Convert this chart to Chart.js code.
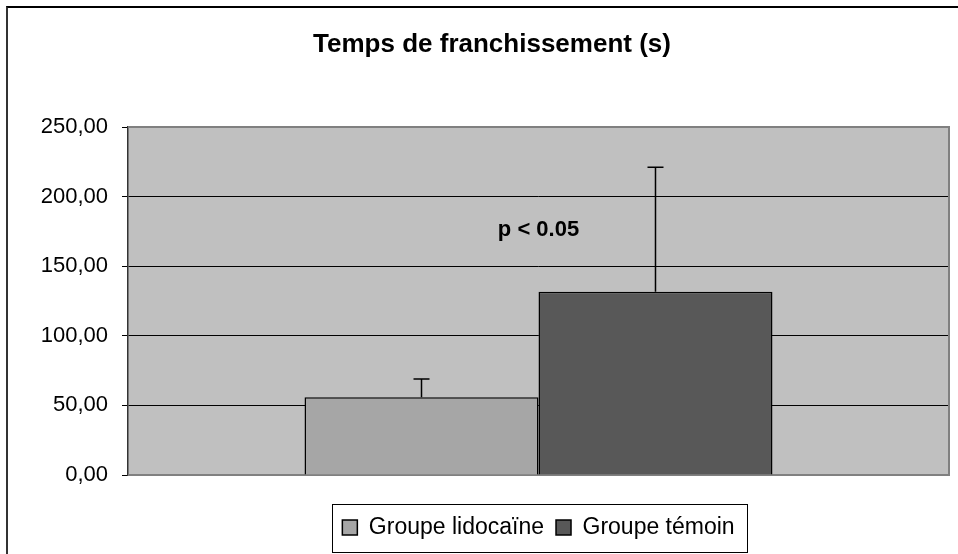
<!DOCTYPE html>
<html lang="fr">
  <head>
    <meta charset="UTF-8" />
    <title>Temps de franchissement (s)</title>
    <script src="https://cdn.jsdelivr.net/npm/chart.js"></script>
    <style>
      body { margin: 0; overflow: hidden; background: #fff; }
      #frame {
        position: absolute; left: 6px; top: 6px; width: 2000px; height: 2000px;
        border-left: 2px solid #333; border-top: 2px solid #000;
      }
      #myChart { position: absolute; left: 0; top: 0; }
    </style>
  </head>
  <body>
    <div id="frame"></div>
    <canvas id="myChart" width="958" height="554"></canvas>

    <script>
      // données
      const categories = [""];
      const groupNames = ["Groupe lidocaïne", "Groupe témoin"];
      const means = [55.8, 131.7];
      const errUp = [13.2, 89.3];
      const yTicks = [0, 50, 100, 150, 200, 250];
      const pText = "p < 0.05";
      const pTextAt = 176; // hauteur du texte, en unités de l'axe Y

      const FONT = "'Liberation Sans', Arial, sans-serif";

      // fond gris de la zone de tracé + bordure
      const plotArea = {
        id: "plotArea",
        beforeDraw(chart) {
          const { ctx, chartArea: a } = chart;
          ctx.save();
          ctx.fillStyle = "#C0C0C0";
          ctx.fillRect(a.left, a.top, a.right - a.left, a.bottom - a.top);
          ctx.restore();
        },
        beforeDatasetsDraw(chart) {
          const { ctx, chartArea: a } = chart;
          ctx.save();
          ctx.strokeStyle = "#808080";
          ctx.lineWidth = 2;
          ctx.beginPath();
          ctx.moveTo(a.left, a.top);
          ctx.lineTo(a.right, a.top);
          ctx.lineTo(a.right, a.bottom);
          ctx.lineTo(a.left, a.bottom);
          ctx.stroke();
          ctx.restore();
        },
      };

      // barres d'erreur (vers le haut seulement) et texte p
      const extras = {
        id: "extras",
        afterDatasetsDraw(chart) {
          const { ctx } = chart;
          const y = chart.scales.y;
          ctx.save();
          ctx.strokeStyle = "#000";
          ctx.lineWidth = 1.5;
          chart.data.datasets.forEach((ds, i) => {
            const bar = chart.getDatasetMeta(i).data[0];
            const top = y.getPixelForValue(means[i] + errUp[i]);
            ctx.beginPath();
            ctx.moveTo(bar.x, bar.y);
            ctx.lineTo(bar.x, top);
            ctx.moveTo(bar.x - 8, top);
            ctx.lineTo(bar.x + 8, top);
            ctx.stroke();
          });
          ctx.fillStyle = "#000";
          ctx.font = "bold 22px " + FONT;
          ctx.textAlign = "center";
          ctx.textBaseline = "middle";
          ctx.fillText(pText, chart.scales.x.getPixelForValue(0), y.getPixelForValue(pTextAt));
          ctx.restore();
        },
        afterDraw(chart) {
          // cadre de la légende
          const hb = chart.legend.legendHitBoxes;
          if (!hb || !hb.length) return;
          const { ctx } = chart;
          const last = hb[hb.length - 1];
          const left = hb[0].left - 10;
          const right = last.left + last.width + 13;
          const cy = hb[0].top + hb[0].height / 2;
          ctx.save();
          ctx.strokeStyle = "#000";
          ctx.lineWidth = 1;
          ctx.strokeRect(Math.round(left) + 0.5, Math.round(cy - 24) + 0.5, Math.round(right - left), 48);
          ctx.restore();
        },
      };

      const ctx = document.getElementById("myChart").getContext("2d");
      const chart = new Chart(ctx, {
        type: "bar",
        data: {
          labels: categories,
          datasets: [
            {
              label: groupNames[0],
              data: [means[0]],
              backgroundColor: "#A6A6A6",
              borderColor: "#000",
              borderWidth: 1.5,
            },
            {
              label: groupNames[1],
              data: [means[1]],
              backgroundColor: "#585858",
              borderColor: "#000",
              borderWidth: 1.5,
            },
          ],
        },
        options: {
          responsive: false,
          animation: false,
          devicePixelRatio: 1,
          layout: { padding: { left: 35, right: 9, top: 0, bottom: 5 } },
          datasets: { bar: { barPercentage: 1, categoryPercentage: 0.57 } },
          plugins: {
            title: {
              display: true,
              text: "Temps de franchissement (s)",
              color: "#000",
              font: { family: FONT, size: 26, weight: "bold" },
              padding: { top: 29, bottom: 66.8 },
            },
            legend: {
              display: true,
              position: "bottom",
              fullSize: false,
              labels: {
                color: "#000",
                font: { family: FONT, size: 23 },
                boxWidth: 15,
                boxHeight: 15,
                padding: 12,
              },
            },
            tooltip: { enabled: false },
          },
          scales: {
            x: {
              ticks: { display: false },
              grid: { display: false },
              border: { display: true, color: "#808080", width: 2 },
              afterFit(scale) { scale.height = 29; },
            },
            y: {
              min: 0,
              max: 250,
              afterBuildTicks(scale) {
                scale.ticks = yTicks.map((v) => ({ value: v }));
              },
              afterFit(scale) { scale.width = 93; },
              ticks: {
                color: "#000",
                font: { family: FONT, size: 22 },
                padding: 14,
                callback: (v) => v.toFixed(2).replace(".", ","),
              },
              grid: {
                color: (c) => (c.tick && (c.tick.value === 0 || c.tick.value === 250) ? "rgba(0,0,0,0)" : "#000"),
                tickColor: "#000",
                tickLength: 6,
                lineWidth: 1,
              },
              border: { color: "#333", width: 1.5 },
            },
          },
        },
        plugins: [plotArea, extras],
      });
    </script>
  </body>
</html>
